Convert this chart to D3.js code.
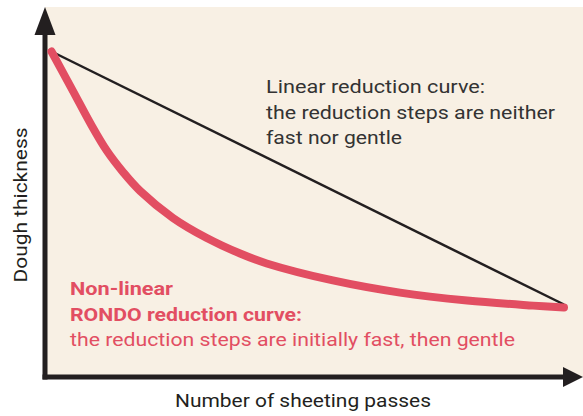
<!DOCTYPE html>
<html><head><meta charset="utf-8">
<script src="https://cdn.jsdelivr.net/npm/d3@7"></script>
<style>html,body{margin:0;padding:0;background:#fff;}svg{display:block;}</style>
</head><body>
<svg id="c" width="583" height="416"></svg>
<script>
// Data
const passes = [0, 0.42, 0.75, 1.08, 1.4, 1.73, 2.37, 3.03, 3.68, 4.2, 5.49, 6.8, 8.11, 9.4, 10];
const rondoThickness = [10, 8.6, 7.49, 6.49, 5.73, 5.07, 4.12, 3.41, 2.86, 2.51, 1.91, 1.48, 1.2, 1.02, 0.95];
const linearPasses = [0, 10];
const linearThickness = [10, 1.06];
const xTitle = "Number of sheeting passes";
const yTitle = "Dough thickness";
const linearLabel = ["Linear reduction curve:", "the reduction steps are neither", "fast nor gentle"];
const rondoLabelBold = ["Non-linear", "RONDO reduction curve:"];
const rondoLabel = "the reduction steps are initially fast, then gentle";

const svg = d3.select("#c");
const font = "Roboto, 'DejaVu Sans', sans-serif";
const dark = "#231f20", red = "#e24e62", grey = "#333333";

const x = d3.scaleLinear().domain([0, 10]).range([51.5, 564]);
const y = d3.scaleLinear().domain([0, 10]).range([334.5, 51.5]);

// panel
svg.append("rect").attr("x", 45).attr("y", 7).attr("width", 538).attr("height", 370).attr("fill", "#f8f0e4");

// axes
svg.append("line").attr("x1", 45).attr("x2", 45).attr("y1", 30).attr("y2", 379.5).attr("stroke", dark).attr("stroke-width", 5);
svg.append("line").attr("x1", 42.5).attr("x2", 566).attr("y1", 377).attr("y2", 377).attr("stroke", dark).attr("stroke-width", 5);
svg.append("path").attr("d", "M45,7 L55.5,35 L34.5,35 Z").attr("fill", dark);
svg.append("path").attr("d", "M583,377 L563,367 L563,387 Z").attr("fill", dark);

// linear line
const lin = d3.line().x((d, i) => x(linearPasses[i])).y((d, i) => y(linearThickness[i]));
svg.append("path").datum(linearPasses).attr("d", lin).attr("fill", "none").attr("stroke", dark).attr("stroke-width", 2.5);

// rondo curve
const curve = d3.line().x((d, i) => x(passes[i])).y((d, i) => y(rondoThickness[i])).curve(d3.curveCatmullRom.alpha(0.5));
svg.append("path").datum(passes).attr("d", curve).attr("fill", "none").attr("stroke", red)
  .attr("stroke-width", 8).attr("stroke-linecap", "round").attr("stroke-linejoin", "round");

// texts
function txt(s, tx, ty, opts) {
  const t = svg.append("text").attr("x", tx).attr("y", ty).text(s)
    .attr("font-family", font).attr("font-size", opts.size || 19)
    .attr("fill", opts.fill || grey).attr("font-weight", opts.weight || 400);
  if (opts.len) t.attr("textLength", opts.len).attr("lengthAdjust", "spacingAndGlyphs");
  if (opts.anchor) t.attr("text-anchor", opts.anchor);
  return t;
}
const linLens = [219, 289, 136];
linearLabel.forEach((s, i) => txt(s, 266, 93 + i * 25.5, {len: linLens[i]}));
const boldLens = [103, 232];
rondoLabelBold.forEach((s, i) => txt(s, 70, 295 + i * 25.5, {fill: red, weight: 700, len: boldLens[i]}));
txt(rondoLabel, 70, 346, {fill: red, len: 445});

txt(xTitle, 303, 407, {fill: dark, anchor: "middle", len: 256, size: 18.5});
txt(yTitle, 0, 0, {fill: dark, anchor: "middle", len: 155, size: 18.5})
  .attr("transform", "translate(27,205) rotate(-90)");
</script>
</body></html>
